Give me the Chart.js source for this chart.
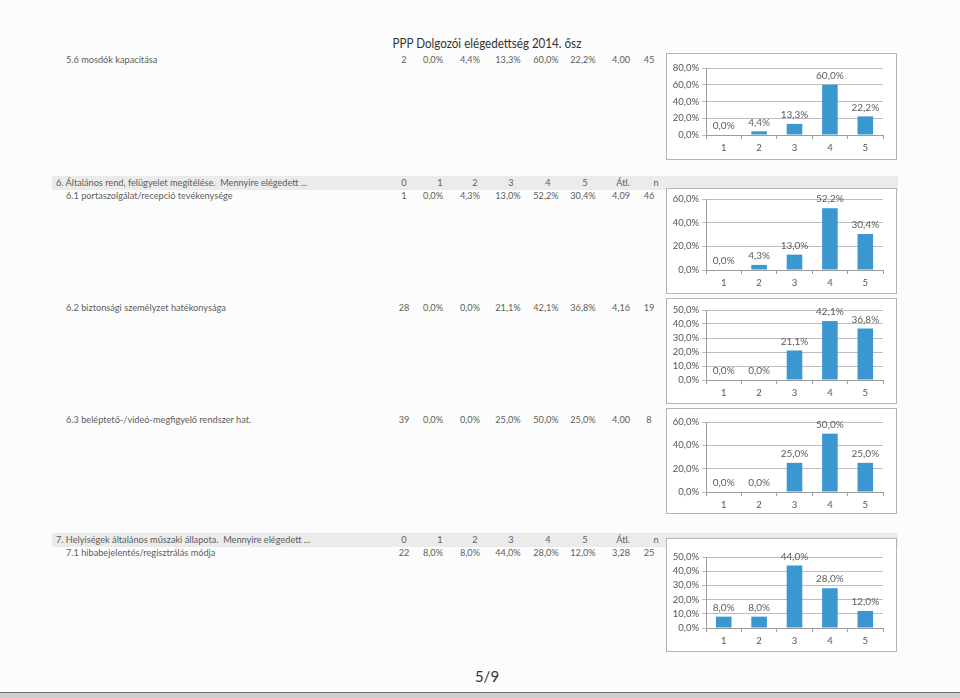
<!DOCTYPE html>
<html lang="hu">
<head>
<meta charset="utf-8">
<title>PPP Dolgozói elégedettség 2014. ősz</title>
<script src="https://cdn.jsdelivr.net/npm/chart.js@4.4.1/dist/chart.umd.min.js"></script>
<style>
  body { margin: 0; background: #fcfcfc; }
  #page { position: relative; width: 960px; height: 698px; overflow: hidden;
          font-family: Lato, "Noto Sans", sans-serif; color: #5e5e5e; }
  .t { position: absolute; white-space: pre; line-height: 1; transform: translateY(-50%); font-size: 9.2px; }
  .c { transform: translate(-50%, -50%); }
  .band { position: absolute; left: 52px; width: 846px; height: 14px; background: #ebebeb; }
  .box { position: absolute; left: 666px; width: 229px; border: 1px solid #b4b4b4; background: #fff; }
  .box canvas { display: block; }
  #foot { position: absolute; left: 0; top: 692px; width: 960px; height: 6px;
          border-top: 1px solid #6f6f6f; background: #cfcfcf; }
</style>
</head>
<body>
<div id="page"></div>
<script>
// ---- data read from the sheet ----
const categories = ['1', '2', '3', '4', '5'];
const headerCols = ['0', '1', '2', '3', '4', '5', 'Átl.', 'n'];

const q56 = [0.0, 4.4, 13.3, 60.0, 22.2];
const q61 = [0.0, 4.3, 13.0, 52.2, 30.4];
const q62 = [0.0, 0.0, 21.1, 42.1, 36.8];
const q63 = [0.0, 0.0, 25.0, 50.0, 25.0];
const q71 = [8.0, 8.0, 44.0, 28.0, 12.0];

const zeroCounts = [2, 1, 28, 39, 22];
const averages = ['4,00', '4,09', '4,16', '4,00', '3,28'];
const counts = [45, 46, 19, 8, 25];
const axisMax = [80, 60, 50, 60, 50];
const axisStep = [20, 20, 10, 20, 10];

const rowLabels = [
  '5.6 mosdók kapacitása',
  '6.1 portaszolgálat/recepció tevékenysége',
  '6.2 biztonsági személyzet hatékonysága',
  '6.3 beléptető-/videó-megfigyelő rendszer hat.',
  '7.1 hibabejelentés/regisztrálás módja'
];
const sectionTitles = [
  '6. Általános rend, felügyelet megítélése.  Mennyire elégedett ...',
  '7. Helyiségek általános műszaki állapota.  Mennyire elégedett ...'
];
const pageTitle = 'PPP Dolgozói elégedettség 2014. ősz';
const pageNumber = '5/9';

// ---- layout ----
const page = document.getElementById('page');
const fmt = v => v.toFixed(1).replace('.', ',') + '%';
const colX = [404, 433, 470, 508, 546, 583, 621, 649];
const headX = [404, 440, 475, 511, 548, 585, 623, 656];
const rowY = [60, 196, 308, 420, 553];
const bandY = [176, 533];
// box top, inner height, plot top, rest below plot
const boxes = [
  { top: 53, h: 105, pt: 14, rest: 24 },
  { top: 188, h: 104, pt: 10, rest: 23 },
  { top: 298, h: 104, pt: 11, rest: 23 },
  { top: 408, h: 104, pt: 13, rest: 21 },
  { top: 538, h: 112, pt: 18, rest: 23 }
];

function text(str, x, y, cls, size) {
  const d = document.createElement('div');
  d.className = 't' + (cls ? ' ' + cls : '');
  d.textContent = str;
  d.style.left = x + 'px';
  d.style.top = y + 'px';
  if (size) d.style.fontSize = size + 'px';
  page.appendChild(d);
  return d;
}

const title = text(pageTitle, 487, 44, 'c', 13.5);
title.style.color = '#333';
title.style.transform = 'translate(-50%, -50%) scaleX(0.86)';
text(pageNumber, 487, 676, 'c', 15).style.color = '#333';

bandY.forEach((y, i) => {
  const b = document.createElement('div');
  b.className = 'band';
  b.style.top = y + 'px';
  page.appendChild(b);
  text(sectionTitles[i], 56, y + 7);
  headerCols.forEach((h, j) => text(h, headX[j], y + 7, 'c'));
});

const series = [q56, q61, q62, q63, q71];
series.forEach((vals, r) => {
  const y = rowY[r];
  text(rowLabels[r], 66, y);
  const cells = [String(zeroCounts[r])].concat(vals.map(fmt), [averages[r], String(counts[r])]);
  cells.forEach((c, j) => text(c, colX[j], y, 'c'));
});

const foot = document.createElement('div');
foot.id = 'foot';
page.appendChild(foot);

// ---- charts ----
const barLabels = {
  id: 'barLabels',
  afterDatasetsDraw(chart) {
    const ctx = chart.ctx;
    const ds = chart.data.datasets[0];
    ctx.save();
    ctx.font = '10px Lato, sans-serif';
    ctx.fillStyle = '#5c5c5c';
    ctx.textAlign = 'center';
    ctx.textBaseline = 'bottom';
    chart.getDatasetMeta(0).data.forEach((bar, i) => {
      ctx.fillText(fmt(ds.data[i]), bar.x, bar.y - 4);
    });
    ctx.restore();
  }
};

const axisColor = '#9c9c9c';
series.forEach((vals, r) => {
  const g = boxes[r];
  const box = document.createElement('div');
  box.className = 'box';
  box.style.top = g.top + 'px';
  box.style.height = g.h + 'px';
  const cv = document.createElement('canvas');
  cv.width = 229;
  cv.height = g.h;
  box.appendChild(cv);
  page.appendChild(box);

  new Chart(cv, {
    type: 'bar',
    data: {
      labels: categories,
      datasets: [{
        data: vals,
        backgroundColor: '#3a97d0',
        barPercentage: 0.44,
        categoryPercentage: 1
      }]
    },
    options: {
      responsive: false,
      animation: false,
      devicePixelRatio: 1,
      events: [],
      layout: { padding: { left: 4, right: 13, top: g.pt, bottom: g.rest - 20 } },
      plugins: { legend: { display: false }, tooltip: { enabled: false } },
      scales: {
        x: {
          grid: { drawOnChartArea: false, offset: true, tickLength: 4, color: axisColor },
          border: { color: axisColor },
          ticks: { color: '#555', padding: 3, font: { size: 9.5, family: 'Lato' } },
          afterFit(s) { s.height = 20; }
        },
        y: {
          min: 0,
          max: axisMax[r],
          grid: { color: '#bcbcbc', tickLength: 4 },
          border: { color: axisColor },
          ticks: { stepSize: axisStep[r], autoSkip: false, callback: v => fmt(v), color: '#555', padding: 3,
                   font: { size: 9.5, family: 'Lato' } },
          afterFit(s) { s.width = 35; }
        }
      }
    },
    plugins: [barLabels]
  });
});
</script>
</body>
</html>
